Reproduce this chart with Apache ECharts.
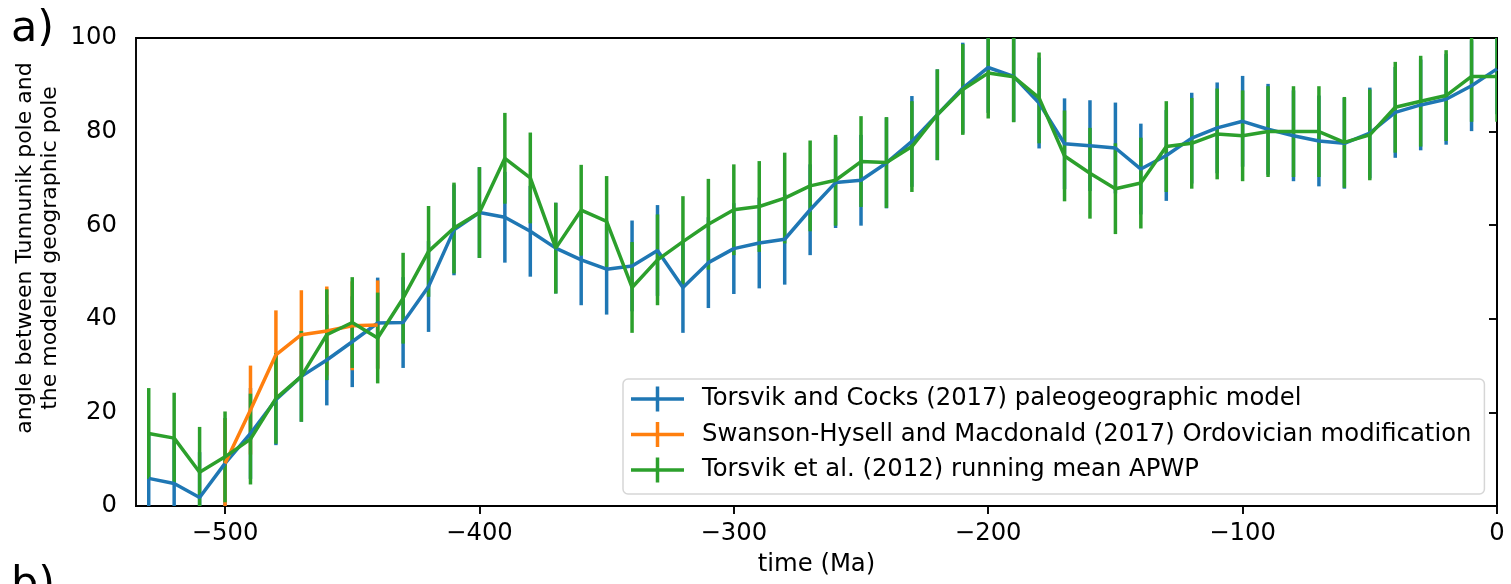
<!DOCTYPE html>
<html>
<head>
<meta charset="utf-8">
<script src="https://cdn.jsdelivr.net/npm/echarts@6/dist/echarts.min.js"></script>
<style>
  html, body { margin: 0; padding: 0; background: #fff; }
  #main { width: 1511px; height: 584px; }
</style>
</head>
<body>
<div id="main"></div>
<script>
// ages in Ma (negative = past)
var ages = [-530, -520, -510, -500, -490, -480, -470, -460, -450, -440,
  -430, -420, -410, -400, -390, -380, -370, -360, -350, -340,
  -330, -320, -310, -300, -290, -280, -270, -260, -250, -240,
  -230, -220, -210, -200, -190, -180, -170, -160, -150, -140,
  -130, -120, -110, -100, -90, -80, -70, -60, -50, -40,
  -30, -20, -10, 0];

// Torsvik and Cocks (2017)
var tcAngle = [5.9, 4.8, 1.8, 9.1, 15.5, 22.7, 27.7, 31.2, 35.1, 39.1,
  39.2, 46.9, 59.0, 62.7, 61.7, 58.7, 55.1, 52.6, 50.6, 51.3,
  54.6, 46.7, 52.0, 55.0, 56.2, 57.0, 63.3, 69.1, 69.6, 73.3,
  77.9, 83.6, 89.3, 93.7, 91.8, 86.1, 77.4, 77.0, 76.5, 72.0,
  74.9, 78.6, 80.8, 82.2, 80.5, 79.1, 78.0, 77.5, 79.7, 84.1,
  85.7, 86.9, 89.8, 93.4];
var tcErr = 9.7;

// Swanson-Hysell and Macdonald (2017)
var shAges = [-500, -490, -480, -470, -460, -450, -440];
var shAngle = [9.1, 20.5, 32.3, 36.6, 37.4, 38.5, 38.7];
var shErr = 9.5;

// Torsvik et al. (2012) running mean
var tAngle = [15.5, 14.5, 7.2, 10.5, 14.3, 23.0, 27.7, 36.6, 39.2, 35.9,
  44.4, 54.4, 59.4, 62.7, 74.3, 70.1, 55.1, 63.2, 60.8, 46.7,
  52.6, 56.5, 60.2, 63.3, 64.0, 65.8, 68.4, 69.6, 73.6, 73.4,
  76.8, 83.6, 89.0, 92.5, 91.7, 87.2, 74.8, 71.1, 67.8, 69.0,
  76.8, 77.5, 79.5, 79.1, 80.0, 80.0, 80.0, 77.7, 79.3, 85.2,
  86.5, 87.7, 91.8, 91.8];
var tErr = 9.7;

var xTicks = [-500, -400, -300, -200, -100, 0];

var names = [
  'Torsvik and Cocks (2017) paleogeographic model',
  'Swanson-Hysell and Macdonald (2017) Ordovician modification',
  'Torsvik et al. (2012) running mean APWP'
];
var colors = ['#1f77b4', '#ff7f0e', '#2ca02c'];

var FONT = 'DejaVu Sans';
var FS = 24.3;

function pairs(xs, ys) {
  return xs.map(function (x, i) { return [x, ys[i]]; });
}
function bars(xs, ys, err) {
  return xs.map(function (x, i) { return [x, ys[i] - err, ys[i] + err]; });
}
function errRender(params, api) {
  var p1 = api.coord([api.value(0), api.value(1)]);
  var p2 = api.coord([api.value(0), api.value(2)]);
  return {
    type: 'line',
    shape: { x1: p1[0], y1: p1[1], x2: p2[0], y2: p2[1] },
    style: { stroke: api.visual('color'), lineWidth: 3.5 }
  };
}
function minus(v) {
  return v < 0 ? '\u2212' + (-v) : String(v);
}

var icon = 'path://M0,11.25L53,11.25L53,14.75L0,14.75Z M24.75,0.5L28.25,0.5L28.25,25.5L24.75,25.5Z M66,0L66,26';

var chart = echarts.init(document.getElementById('main'));
var option = {
  animation: false,
  backgroundColor: '#fff',
  grid: {
    left: 136, right: 14, top: 38, bottom: 78,
    show: true, borderColor: '#000', borderWidth: 1.9
  },
  legend: {
    orient: 'vertical',
    left: 623, top: 379,
    data: names,
    icon: icon,
    itemWidth: 66, itemHeight: 26, itemGap: 9.5,
    padding: [7, 13, 11, 8],
    backgroundColor: 'rgba(255,255,255,0.8)',
    borderColor: '#d6d6d6', borderWidth: 1.5, borderRadius: 5,
    itemStyle: { borderWidth: 0 },
    textStyle: { fontFamily: FONT, fontSize: FS, color: '#000', lineHeight: 26 },
    selectedMode: false
  },
  xAxis: {
    type: 'value', min: -535, max: 0,
    name: 'time (Ma)', nameLocation: 'middle', nameGap: 47,
    nameTextStyle: { fontFamily: FONT, fontSize: FS, color: '#000' },
    axisLine: { show: true, lineStyle: { color: '#000', width: 1.9 } },
    axisTick: { show: true, length: 8, customValues: xTicks, lineStyle: { color: '#000', width: 1.9 } },
    axisLabel: { customValues: xTicks, margin: 16, fontFamily: FONT, fontSize: FS, color: '#000', formatter: minus },
    splitLine: { show: false }
  },
  yAxis: {
    type: 'value', min: 0, max: 100, interval: 20,
    axisLine: { show: true, lineStyle: { color: '#000', width: 1.9 } },
    axisTick: { show: true, length: 8, lineStyle: { color: '#000', width: 1.9 } },
    axisLabel: { margin: 19, fontFamily: FONT, fontSize: FS, color: '#000' },
    splitLine: { show: false }
  },
  graphic: [
    {
      type: 'text', x: 38, y: 248, rotation: Math.PI / 2,
      style: {
        text: 'angle between Tunnunik pole and\nthe modeled geographic pole',
        fontFamily: FONT, fontSize: 22, lineHeight: 25, fill: '#000',
        align: 'center', verticalAlign: 'middle'
      }
    },
    {
      type: 'text', left: 11, top: 8,
      style: { text: 'a)', fontFamily: FONT, fontSize: 43, fill: '#000' }
    },
    {
      type: 'text', x: 11, y: 564,
      style: { text: 'b)', fontFamily: FONT, fontSize: 43, fill: '#000' }
    }
  ],
  series: [
    { name: 'tc-err', type: 'custom', renderItem: errRender, clip: true,
      itemStyle: { color: colors[0] }, data: bars(ages, tcAngle, tcErr) },
    { name: names[0], type: 'line', showSymbol: false, clip: true,
      itemStyle: { color: colors[0] }, lineStyle: { color: colors[0], width: 3.5 },
      data: pairs(ages, tcAngle) },
    { name: 'sh-err', type: 'custom', renderItem: errRender, clip: true,
      itemStyle: { color: colors[1] }, data: bars(shAges, shAngle, shErr) },
    { name: names[1], type: 'line', showSymbol: false, clip: true,
      itemStyle: { color: colors[1] }, lineStyle: { color: colors[1], width: 3.5 },
      data: pairs(shAges, shAngle) },
    { name: 't-err', type: 'custom', renderItem: errRender, clip: true,
      itemStyle: { color: colors[2] }, data: bars(ages, tAngle, tErr) },
    { name: names[2], type: 'line', showSymbol: false, clip: true,
      itemStyle: { color: colors[2] }, lineStyle: { color: colors[2], width: 3.5 },
      data: pairs(ages, tAngle) }
  ]
};
chart.setOption(option);
</script>
</body>
</html>
